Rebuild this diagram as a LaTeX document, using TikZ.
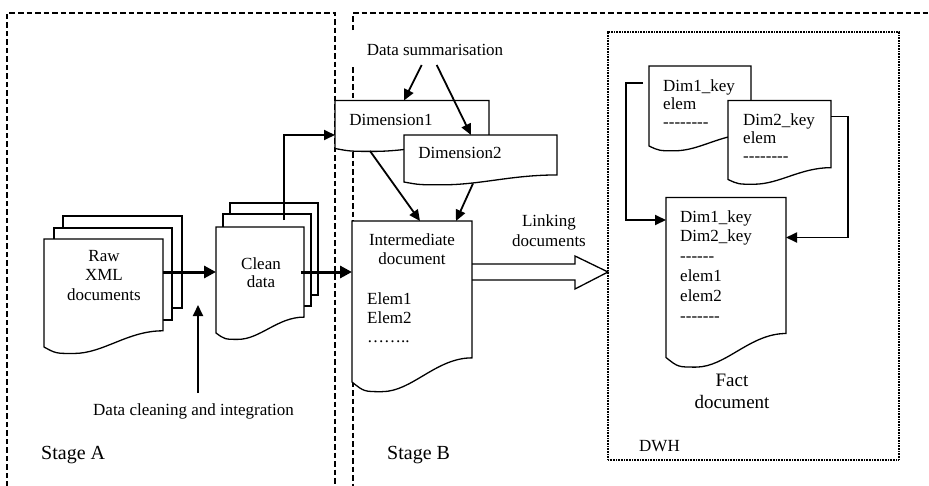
\documentclass[tikz,border=0pt]{standalone}
\usepackage{fontspec}
\setmainfont{Liberation Serif}
\usetikzlibrary{arrows.meta,calc}

% a hyphen that is never merged into an en dash
\newcommand\hy{-\kern0pt}

% document symbol: rectangle with a wavy lower edge, drawn over an empty node
\newcommand\docwave[1]{%
  \filldraw[docline] let \p1=(#1.north west), \p2=(#1.south east),
      \n1={\x2-(\x1)}, \n2={\y1-(\y2)} in
    (\x1,\y1) -- (\x2,\y1) -- (\x2,{\y2+0.15*\n2})
    .. controls ({\x2-0.3*\n1},{\y2+0.15*\n2}) and ({\x1+0.5*\n1},{\y2-0.06*\n2})
    .. ({\x1+0.25*\n1},{\y2-0.06*\n2})
    .. controls ({\x1+0.1*\n1},{\y2-0.06*\n2}) .. (\x1,\y2) -- cycle;}

\begin{document}
\begin{tikzpicture}[x=1pt,y=-1pt,
  frame/.style={line width=1.8pt, dash pattern=on 5.5pt off 3pt},
  dwhframe/.style={draw, line width=1.5pt, dash pattern=on 0.9pt off 0.7pt,
    inner sep=0pt, outer sep=0pt},
  docnode/.style={inner sep=0pt, outer sep=0pt},
  docline/.style={line width=1.3pt, fill=white},
  page/.style={draw, fill=white, line width=1.3pt, inner sep=0pt, outer sep=0pt},
  txt/.style={inner sep=0pt, font=\fontsize{17}{19.5}\selectfont, align=left},
  ctxt/.style={txt, align=center},
  stagetxt/.style={inner sep=0pt, font=\fontsize{20}{24}\selectfont},
  conn/.style={line width=1.8pt, -{Triangle[length=11pt,width=10pt]}},
  bold/.style={line width=3pt, -{Triangle[length=12pt,width=12pt]}},
  hollow/.style={line width=1.3pt, line join=miter},
]

\useasboundingbox (0,0) rectangle (929,485);
\clip (0,0) rectangle (929,485);

% stage frames
\draw[frame] (7,495) -- (7,13) -- (335,13) -- (335,495);
\draw[frame] (353,30) -- (353,13) -- (940,13);
\draw[frame] (353,67) -- (353,495);

% data warehouse frame
\node[dwhframe, minimum width=291pt, minimum height=428pt, anchor=north west] (dwh) at (608,32) {};

\coordinate (mainrow) at (0,272);
\coordinate (dcpoint) at (198,305);

% labels of the frames
\node[stagetxt, anchor=base west] (stA) at (41,459) {Stage A};
\node[stagetxt, anchor=base west] (stB) at (387,459) {Stage B};
\node[txt, anchor=base west] (dwhlabel) at (639,451) {DWH};

% raw XML documents (multi-line texts are placed by the baseline of their last line)
\node[page, minimum width=119pt, minimum height=92pt, anchor=north west] (raw3) at (63,216) {};
\node[page, minimum width=118pt, minimum height=92pt, anchor=north west] (raw2) at (54,228) {};
\node[docnode, minimum width=119pt, minimum height=108pt, anchor=north west] (raw) at (44,239) {};
\docwave{raw}
\node[ctxt, anchor=base] (rawtext) at (104,300) {Raw\\XML\\documents};

% clean data
\node[page, minimum width=88pt, minimum height=92pt, anchor=north west] (clean3) at (230,203) {};
\node[page, minimum width=88pt, minimum height=92pt, anchor=north west] (clean2) at (223,214) {};
\node[docnode, minimum width=88pt, minimum height=106pt, anchor=north west] (clean) at (216,227) {};
\docwave{clean}
\node[ctxt, anchor=base, font=\fontsize{17}{18.5}\selectfont] (cleantext) at (261,287.5) {Clean\\data};

% dimensions
\node[docnode, minimum width=154pt, minimum height=48pt, anchor=north west] (dim1) at (335,100.5) {};
\docwave{dim1}
\node[txt, anchor=base] (dim1text) at (391,125) {Dimension1};
\node[docnode, minimum width=153pt, minimum height=47pt, anchor=north west] (dim2) at (404,135) {};
\docwave{dim2}
\node[txt, anchor=base] (dim2text) at (460,158.5) {Dimension2};

% intermediate document
\node[docnode, minimum width=120pt, minimum height=161pt, anchor=north west] (inter) at (352,221) {};
\docwave{inter}
\node[ctxt, anchor=base, font=\fontsize{17}{19}\selectfont] (intertitle) at (412,264) {Intermediate\\document};
\node[txt, anchor=base west, font=\fontsize{17}{19}\selectfont] (interelems) at (367,342) {Elem1\\Elem2\\……..};

% free labels
\node[txt, anchor=base] (dsum) at (435,55) {Data summarisation};
\node[txt, anchor=base] (dclean) at (193.5,415) {Data cleaning and integration};
\node[ctxt, anchor=base] (linktext) at (549,246) {Linking\\documents};

% documents inside the data warehouse
\node[docnode, minimum width=102pt, minimum height=80pt, anchor=north west] (dk1) at (649,66) {};
\docwave{dk1}
\node[txt, anchor=base west, font=\fontsize{17}{18.3}\selectfont] (dk1text) at (663,127.6)
  {Dim1\_key\\elem\\\hy\hy\hy\hy\hy\hy\hy\hy};
\node[docnode, minimum width=103pt, minimum height=79pt, anchor=north west] (dk2) at (728,100.5) {};
\docwave{dk2}
\node[txt, anchor=base west, font=\fontsize{17}{18.3}\selectfont] (dk2text) at (743,161.6)
  {Dim2\_key\\elem\\\hy\hy\hy\hy\hy\hy\hy\hy};
\node[docnode, minimum width=120pt, minimum height=160pt, anchor=north west] (fact) at (666,197.5) {};
\docwave{fact}
\node[txt, anchor=base west, font=\fontsize{17}{19.8}\selectfont] (facttext) at (680,321)
  {Dim1\_key\\Dim2\_key\\\hy\hy\hy\hy\hy\hy\\elem1\\elem2\\\hy\hy\hy\hy\hy\hy\hy};
\node[ctxt, anchor=base, font=\fontsize{19}{22}\selectfont] (factlabel) at (732,408.5) {Fact\\document};

% connectors
\draw[bold] (raw.east |- mainrow) -- (clean.west |- mainrow);
\draw[bold] ([xshift=-3pt]clean.east |- mainrow) -- (inter.west |- mainrow);
\draw[conn] ($(clean.north)+(24,-7)$) |- ([yshift=-10.5pt]dim1.west);
\draw[conn] ($(dclean.base)+(4.5,-22)$) -- (dcpoint);
\draw[conn] ($(dsum.base)+(-13.3,10)$) -- ([xshift=-8pt]dim1.north);
\draw[conn] ($(dsum.base)+(1.7,10)$) -- ([xshift=-9.5pt]dim2.north);
\draw[conn] ($(dim1.south west)+(35,2.5)$) -- ([xshift=8pt]inter.north);
\draw[conn] ($(dim2.south west)+(69,1.5)$) -- ([xshift=44pt]inter.north);
\draw[conn] ($(dk1.north west)+(-6,16.7)$) -- ++(-16.7,0) |- ([yshift=57.5pt]fact.west);
\draw[conn] ($(dk2.north east)+(0,16)$) -- ++(17.3,0) |- ([yshift=40pt]fact.east);

% hollow block arrow for linking
\draw[hollow] ($(inter.north east)+(0,43)$) -- ++(103,0) -- ++(0,-8)
  -- (dwh.west |- mainrow) -- ($(inter.north east)+(103,68)$) -- ++(0,-9)
  -- ($(inter.north east)+(0,59)$);
\end{tikzpicture}
\end{document}
